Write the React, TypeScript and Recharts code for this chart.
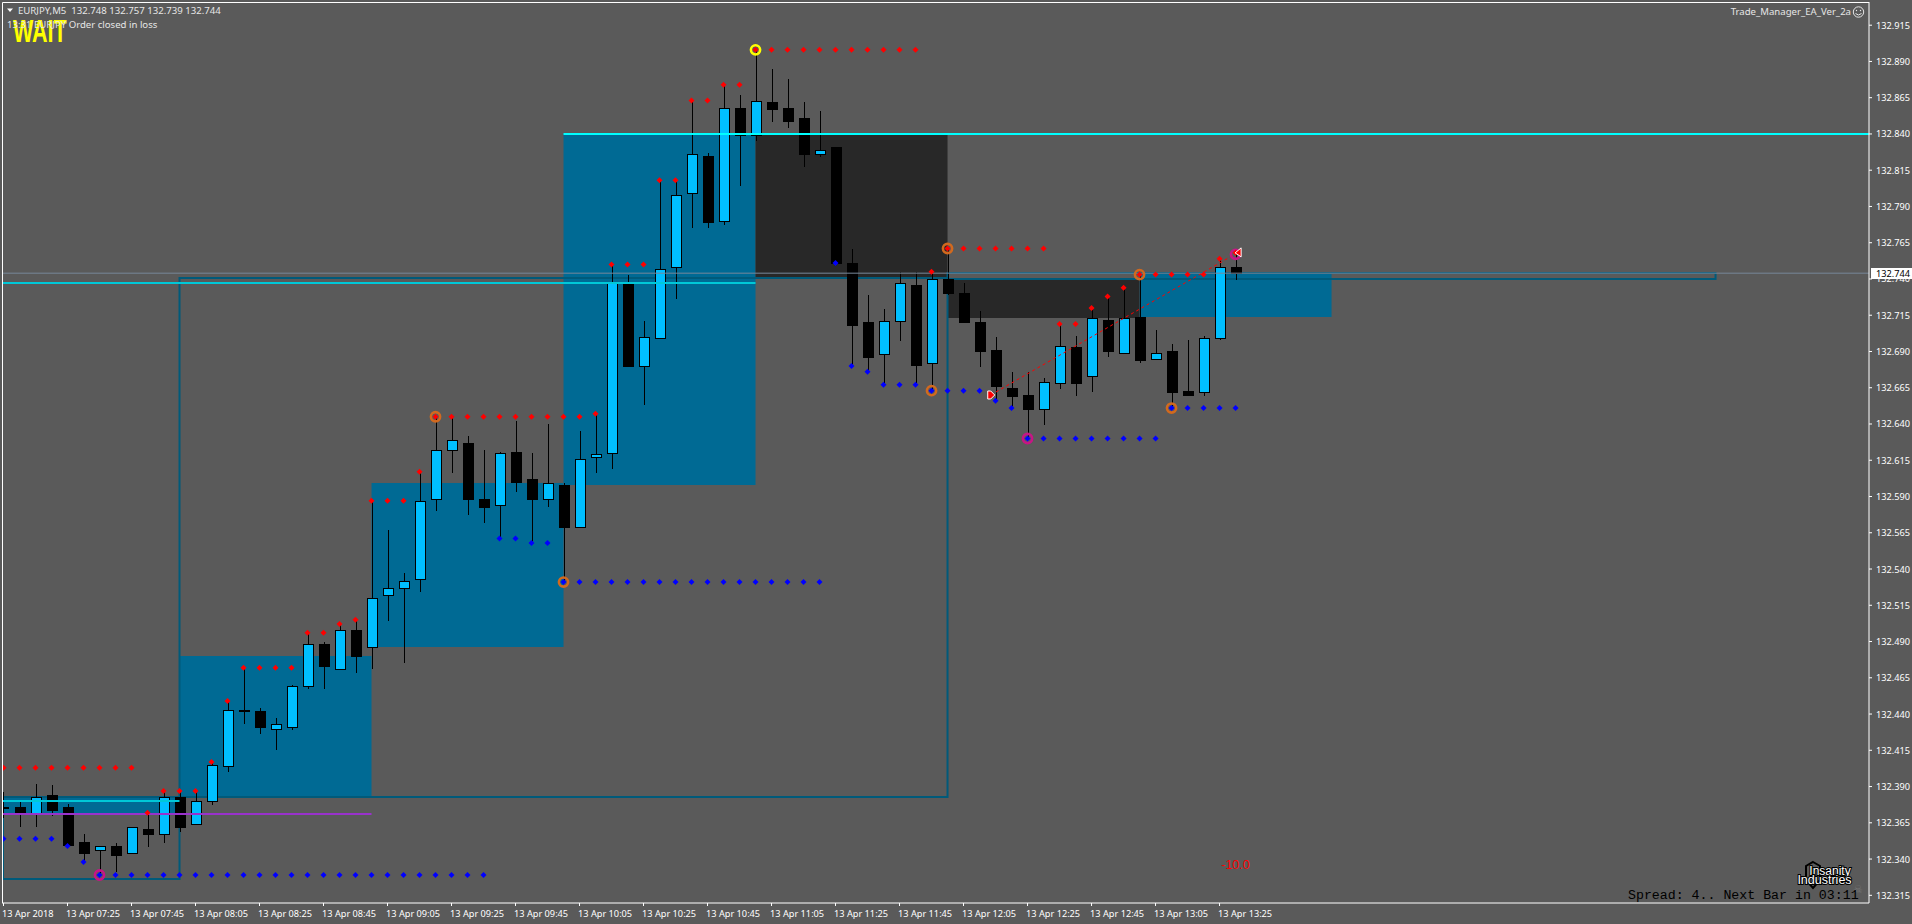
import React from "react";
import { ComposedChart, Bar, Line, XAxis, YAxis, ReferenceArea, ReferenceLine, ReferenceDot } from "recharts";

const opens = [132.376,132.376,132.371,132.384,132.376,132.352,132.346,132.349,132.344,132.361,132.357,132.383,132.364,132.380,132.404,132.443,132.442,132.430,132.431,132.459,132.488,132.471,132.498,132.486,132.522,132.527,132.533,132.588,132.622,132.627,132.588,132.584,132.621,132.602,132.588,132.598,132.569,132.617,132.620,132.738,132.680,132.699,132.748,132.799,132.825,132.780,132.858,132.839,132.862,132.858,132.851,132.826,132.831,132.751,132.710,132.688,132.711,132.736,132.682,132.740,132.730,132.710,132.691,132.665,132.660,132.650,132.668,132.693,132.673,132.712,132.689,132.714,132.685,132.690,132.663,132.662,132.699,132.748];
const highs = [132.386,132.381,132.392,132.391,132.378,132.357,132.349,132.351,132.362,132.372,132.387,132.387,132.387,132.407,132.449,132.472,132.444,132.437,132.460,132.497,132.490,132.502,132.506,132.587,132.567,132.537,132.607,132.645,132.645,132.632,132.622,132.621,132.642,132.620,132.640,132.599,132.635,132.647,132.750,132.743,132.711,132.808,132.808,132.863,132.827,132.874,132.867,132.898,132.885,132.878,132.862,132.856,132.831,132.761,132.729,132.719,132.745,132.745,132.745,132.760,132.737,132.718,132.700,132.676,132.676,132.672,132.709,132.701,132.720,132.728,132.734,132.743,132.705,132.695,132.698,132.701,132.754,132.757];
const lows = [132.368,132.362,132.362,132.370,132.349,132.337,132.329,132.331,132.344,132.348,132.351,132.359,132.364,132.377,132.400,132.433,132.426,132.415,132.429,132.457,132.457,132.471,132.468,132.471,132.504,132.475,132.524,132.580,132.606,132.577,132.572,132.561,132.593,132.558,132.583,132.531,132.568,132.606,132.609,132.679,132.653,132.699,132.726,132.775,132.775,132.777,132.804,132.835,132.848,132.844,132.817,132.824,132.751,132.680,132.676,132.667,132.697,132.667,132.663,132.729,132.710,132.679,132.655,132.651,132.630,132.639,132.664,132.659,132.662,132.686,132.688,132.682,132.685,132.651,132.659,132.659,132.698,132.739];
const closes = [132.375,132.371,132.383,132.374,132.350,132.344,132.349,132.343,132.362,132.357,132.383,132.362,132.380,132.405,132.443,132.442,132.431,132.433,132.459,132.488,132.473,132.498,132.480,132.520,132.527,132.532,132.587,132.622,132.629,132.588,132.583,132.620,132.600,132.588,132.599,132.569,132.616,132.619,132.738,132.680,132.700,132.747,132.798,132.826,132.779,132.858,132.839,132.863,132.857,132.849,132.826,132.829,132.751,132.708,132.686,132.711,132.737,132.681,132.740,132.730,132.710,132.690,132.666,132.659,132.650,132.669,132.694,132.668,132.713,132.690,132.713,132.684,132.689,132.662,132.660,132.699,132.748,132.744];

const redDots = [132.403,132.403,132.403,132.403,132.403,132.403,132.403,132.403,132.403,132.372,132.387,132.387,132.387,132.407,132.449,132.472,132.472,132.472,132.472,132.496,132.496,132.502,132.505,132.587,132.587,132.587,132.607,132.645,132.645,132.645,132.645,132.645,132.645,132.645,132.645,132.645,132.645,132.647,132.750,132.750,132.750,132.808,132.808,132.863,132.863,132.874,132.874,132.898,132.898,132.898,132.898,132.898,132.898,132.898,132.898,132.898,132.898,132.898,132.745,132.761,132.761,132.761,132.761,132.761,132.761,132.761,132.709,132.709,132.720,132.728,132.734,132.743,132.743,132.743,132.743,132.743,132.754,132.758];
const blueDots = [132.354,132.354,132.354,132.354,132.349,132.338,132.329,132.329,132.329,132.329,132.329,132.329,132.329,132.329,132.329,132.329,132.329,132.329,132.329,132.329,132.329,132.329,132.329,132.329,132.329,132.329,132.329,132.329,132.329,132.329,132.329,132.561,132.561,132.558,132.558,132.531,132.531,132.531,132.531,132.531,132.531,132.531,132.531,132.531,132.531,132.531,132.531,132.531,132.531,132.531,132.531,132.531,132.751,132.680,132.676,132.667,132.667,132.667,132.663,132.663,132.663,132.663,132.656,132.651,132.630,132.630,132.630,132.630,132.630,132.630,132.630,132.630,132.630,132.651,132.651,132.651,132.651,132.651];

const yellowRings = [[47, 132.898]];
const orangeRings = [[27, 132.645],[35, 132.531],[58, 132.663],[59, 132.761],[71, 132.743],[73, 132.651]];
const magentaRings = [[6, 132.329],[64, 132.630],[77, 132.757]];

const xTicks = [0,4,8,12,16,20,24,28,32,36,40,44,48,52,56,60,64,68,72,76];
const xLabels = ["13 Apr 2018","13 Apr 07:25","13 Apr 07:45","13 Apr 08:05","13 Apr 08:25","13 Apr 08:45","13 Apr 09:05","13 Apr 09:25","13 Apr 09:45","13 Apr 10:05","13 Apr 10:25","13 Apr 10:45","13 Apr 11:05","13 Apr 11:25","13 Apr 11:45","13 Apr 12:05","13 Apr 12:25","13 Apr 12:45","13 Apr 13:05","13 Apr 13:25"];
const yTicks = [132.315,132.340,132.365,132.390,132.415,132.440,132.465,132.490,132.515,132.540,132.565,132.590,132.615,132.640,132.665,132.690,132.715,132.740,132.765,132.790,132.815,132.840,132.865,132.890,132.915];

const xDomain = [-0.03125, 116.59];
const yDomain = [132.3097, 132.9303];
const xMin = xDomain[0];
const xMax = xDomain[1];

// [x1, x2, bottom price, top price]
const blueZones = [[xMin,11,132.3717,132.3828],[11,23,132.3834,132.48],[23,35,132.4862,132.5993],[35,47,132.598,132.84],[71,83,132.7138,132.7441]];
const darkZones = [[47,59,132.7414,132.84],[59,71,132.7131,132.74]];
const outlineZones = [[11,59,132.3828,132.7407],[xMin,11,132.3262,132.3828],[59,107,132.74,132.7441]];
// [x1, x2, price]
const cyanLines = [[35,xMax,132.84]];
const dimCyanLines = [[xMin,47,132.7372],[xMin,11,132.38]];
const purpleLine = [xMin,23,132.371];
const currentPrice = 132.744;
const tradeLine = [61.7,132.66,77.1,132.758];

const rows = opens.map((o, i) => {
  const ring = (list: number[][]) => { const f = list.find((r) => r[0] === i); return f ? f[1] : null; };
  return {
    i, open: o, high: highs[i], low: lows[i], close: closes[i],
    range: [lows[i], highs[i]], red: redDots[i], blue: blueDots[i],
    yellow: ring(yellowRings), orange: ring(orangeRings), magenta: ring(magentaRings),
  };
});

const FONT = "'Noto Sans', sans-serif";

const Candle = (props: any) => {
  const { x, y, width, height, payload } = props;
  const h = Math.abs(height);
  const cx = Math.floor(x + width / 2) + 0.5;
  const k = h / (payload.high - payload.low);
  const top = Math.max(payload.open, payload.close);
  const bottom = Math.min(payload.open, payload.close);
  const yTop = Math.round(y + (payload.high - top) * k) + 0.5;
  const yBot = Math.round(y + (payload.high - bottom) * k) + 0.5;
  const bull = payload.close >= payload.open;
  return (
    <g shapeRendering="crispEdges">
      <line x1={cx} x2={cx} y1={y} y2={y + h} stroke="#000" strokeWidth={1} />
      <rect x={cx - 5} y={yTop} width={10} height={Math.max(yBot - yTop, 1)} fill={bull ? "#00bfff" : "#000"} stroke="#000" strokeWidth={1} />
    </g>
  );
};

const redDot = (p: any) => p.cy == null ? <g key={p.key} /> : (
  <polygon key={p.key} points={`${p.cx},${p.cy - 3} ${p.cx + 3},${p.cy} ${p.cx},${p.cy + 3} ${p.cx - 3},${p.cy}`} fill="#ff0000" />
);
const blueDot = (p: any) => p.cy == null ? <g key={p.key} /> : (
  <polygon key={p.key} points={`${p.cx},${p.cy - 3} ${p.cx + 3},${p.cy} ${p.cx},${p.cy + 3} ${p.cx - 3},${p.cy}`} fill="#0000ff" />
);
const ringDot = (color: string) => (p: any) => p.cy == null ? <g key={p.key} /> : (
  <circle key={p.key} cx={p.cx} cy={p.cy} r={4.6} fill="none" stroke={color} strokeWidth={2.6} />
);

const arrowRight = (p: any) => (
  <polygon points={`${p.cx - 3},${p.cy - 4} ${p.cx},${p.cy - 4} ${p.cx + 4},${p.cy} ${p.cx},${p.cy + 4} ${p.cx - 3},${p.cy + 4}`} fill="#ff0000" stroke="#fff" strokeWidth={1} />
);
const arrowLeft = (p: any) => (
  <polygon points={`${p.cx + 4},${p.cy - 5} ${p.cx + 4},${p.cy + 4} ${p.cx - 2},${p.cy}`} fill="#ff0000" stroke="#fff" strokeWidth={1} />
);

const XTick = (p: any) => {
  const idx = xTicks.indexOf(p.payload.value);
  return (
    <text x={p.x - 1.5} y={913} fill="#fff" fontFamily={FONT} fontSize={9.2} dominantBaseline="central">{xLabels[idx]}</text>
  );
};
const YTick = (p: any) => (
  <text x={1876} y={p.y} fill="#fff" fontFamily={FONT} fontSize={9.2} dominantBaseline="central">{p.payload.value.toFixed(3)}</text>
);

const BLUE = "#006a94";
const DARK = "#282828";
const OUTLINE = "#005a7a";

export default function App() {
  return (
    <div style={{ position: "absolute", left: 0, top: 0, width: 1912, height: 924, background: "#5a5a5a", overflow: "hidden" }}>
      <ComposedChart width={1912} height={924} data={rows} margin={{ top: 3, left: 3, right: 0, bottom: 0 }}>
        <XAxis dataKey="i" type="number" domain={xDomain} ticks={xTicks} interval={0} allowDataOverflow height={21} tick={<XTick />} tickSize={3} axisLine={{ stroke: "#fff" }} tickLine={{ stroke: "#fff" }} />
        <YAxis type="number" orientation="right" domain={yDomain} ticks={yTicks} interval={0} allowDataOverflow width={43} tick={<YTick />} tickSize={3} axisLine={{ stroke: "#fff" }} tickLine={{ stroke: "#fff" }} />
        {blueZones.map((z, k) => <ReferenceArea key={`b${k}`} x1={z[0]} x2={z[1]} y1={z[2]} y2={z[3]} fill={BLUE} fillOpacity={1} stroke="none" />)}
        {darkZones.map((z, k) => <ReferenceArea key={`d${k}`} x1={z[0]} x2={z[1]} y1={z[2]} y2={z[3]} fill={DARK} fillOpacity={1} stroke="none" />)}
        <ReferenceLine segment={[{ x: xMin, y: currentPrice }, { x: xMax, y: currentPrice }]} stroke="#778899" strokeWidth={1} />
        {outlineZones.map((z, k) => <ReferenceArea key={`o${k}`} x1={z[0]} x2={z[1]} y1={z[2]} y2={z[3]} fill="none" stroke={OUTLINE} strokeWidth={2} />)}
        {cyanLines.map((l, k) => <ReferenceLine key={`c${k}`} segment={[{ x: l[0], y: l[2] }, { x: l[1], y: l[2] }]} stroke="#00ffff" strokeWidth={2} />)}
        {dimCyanLines.map((l, k) => <ReferenceLine key={`e${k}`} segment={[{ x: l[0], y: l[2] }, { x: l[1], y: l[2] }]} stroke="#00c8d8" strokeWidth={2} />)}
        <ReferenceLine segment={[{ x: purpleLine[0], y: purpleLine[2] }, { x: purpleLine[1], y: purpleLine[2] }]} stroke="#9932cc" strokeWidth={2} />
        <ReferenceLine segment={[{ x: tradeLine[0], y: tradeLine[1] }, { x: tradeLine[2], y: tradeLine[3] }]} stroke="#ff0000" strokeWidth={1} strokeDasharray="3 3" />
        <Bar dataKey="range" barSize={11} shape={Candle} isAnimationActive={false} />
        <Line dataKey="yellow" stroke="none" dot={ringDot("#ffff00")} activeDot={false} isAnimationActive={false} />
        <Line dataKey="orange" stroke="none" dot={ringDot("#d2691e")} activeDot={false} isAnimationActive={false} />
        <Line dataKey="magenta" stroke="none" dot={ringDot("#c71585")} activeDot={false} isAnimationActive={false} />
        <Line dataKey="red" stroke="none" dot={redDot} activeDot={false} isAnimationActive={false} />
        <Line dataKey="blue" stroke="none" dot={blueDot} activeDot={false} isAnimationActive={false} />
        <ReferenceDot x={tradeLine[0]} y={tradeLine[1]} r={4} shape={arrowRight} />
        <ReferenceDot x={tradeLine[2]} y={tradeLine[3]} r={4} shape={arrowLeft} />
      </ComposedChart>
      <svg width={1912} height={924} style={{ position: "absolute", left: 0, top: 0, pointerEvents: "none" }} fontFamily={FONT}>
        <line x1={2.5} y1={2.5} x2={1869.5} y2={2.5} stroke="#fff" />
        <line x1={2.5} y1={2.5} x2={2.5} y2={903.5} stroke="#fff" />
        <polygon points="7,8.5 13,8.5 10,12" fill="#fff" />
        <text x={18} y={10.5} fill="#e6e6e6" fontSize={9.6} dominantBaseline="central" style={{ whiteSpace: "pre" }} xmlSpace="preserve">EURJPY,M5  132.748 132.757 132.739 132.744</text>
        <text transform="translate(13 42) scale(1 1.42)" fill="#ffff00" fontFamily="'Liberation Sans', sans-serif" fontWeight="bold" fontSize={21.5}>WAIT</text>
        <text x={7} y={24} fill="#e6e6e6" fontSize={9.6} dominantBaseline="central">13:31 EURJPY Order closed in loss</text>
        <text x={1851} y={11} textAnchor="end" fill="#e6e6e6" fontSize={9.6} dominantBaseline="central">Trade_Manager_EA_Ver_2a</text>
        <circle cx={1858.5} cy={12} r={5.2} fill="none" stroke="#e6e6e6" />
        <circle cx={1856.5} cy={10.5} r={0.7} fill="#e6e6e6" />
        <circle cx={1860.5} cy={10.5} r={0.7} fill="#e6e6e6" />
        <path d="M1855.5 13.5 Q1858.5 16.5 1861.5 13.5" fill="none" stroke="#e6e6e6" />
        <rect x={1871} y={268} width={41} height={11} fill="#fff" />
        <text x={1876} y={273.5} fill="#000" fontSize={9.2} dominantBaseline="central">132.744</text>
        <text x={1235.5} y={865} textAnchor="middle" fill="#ff0000" fontFamily="'Liberation Sans', sans-serif" fontSize={12.5} dominantBaseline="central">-10.0</text>
        <polygon points="1813,862 1820,866 1820,880 1813,888 1806,880 1806,866" fill="none" stroke="#000" strokeWidth={2} />
        <text x={1830} y={871} textAnchor="middle" fill="#fff" stroke="#000" strokeWidth={2} paintOrder="stroke" fontFamily="'Liberation Sans', sans-serif" fontSize={12} dominantBaseline="central">Insanity</text>
        <text x={1824.5} y={880} textAnchor="middle" fill="#fff" stroke="#000" strokeWidth={2} paintOrder="stroke" fontFamily="'Liberation Sans', sans-serif" fontSize={12.5} dominantBaseline="central">Industries</text>
        <text x={1858} y={889} textAnchor="middle" fill="#747474" fontFamily="'DejaVu Sans', sans-serif" fontSize={11} dominantBaseline="central">☠</text>
        <text x={1628} y={895} fill="#000" fontFamily="'Liberation Mono', monospace" fontSize={13.25} dominantBaseline="central">Spread: 4.. Next Bar in 03:11</text>
      </svg>
    </div>
  );
}
